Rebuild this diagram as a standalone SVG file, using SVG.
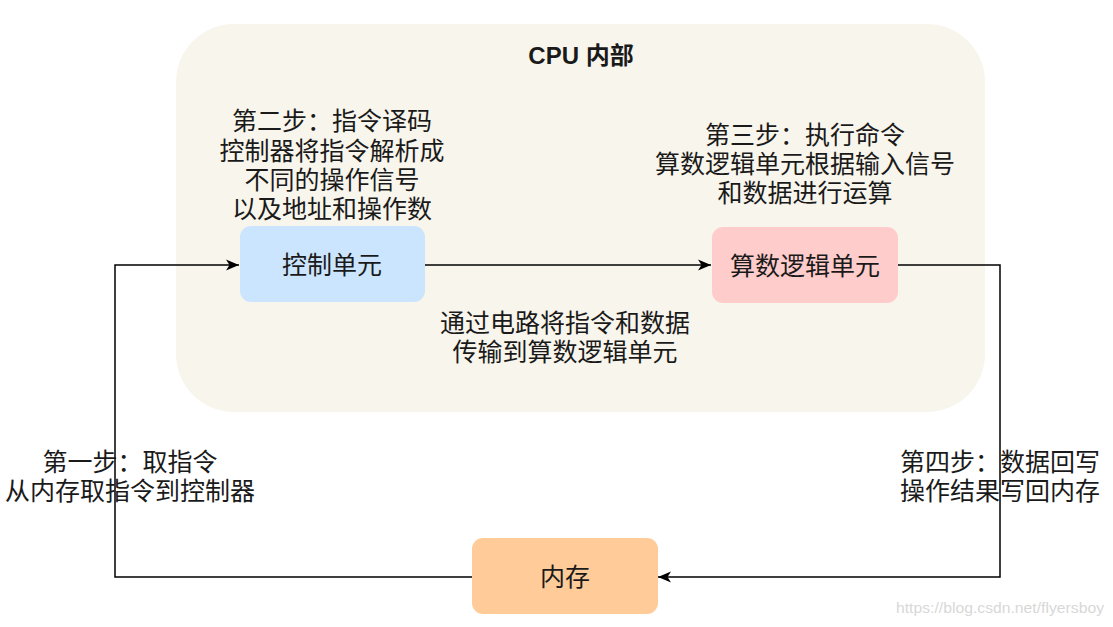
<svg xmlns="http://www.w3.org/2000/svg" width="1113" height="627" viewBox="0 0 1113 627">
  <style>
    .lbl { font-family: "Liberation Sans", "Noto Sans CJK SC", sans-serif; font-size: 25px; fill: #1a1a1a; text-anchor: middle; dominant-baseline: central; }
    .title { font-weight: bold; font-size: 24px; }
    .edge { fill: none; stroke: #000; stroke-width: 1.5; }
    .wm { font-family: "Liberation Sans", sans-serif; font-size: 15px; fill: #d8d8d8; text-anchor: end; }
  </style>
  <defs>
    <marker id="arrow" markerUnits="userSpaceOnUse" markerWidth="14" markerHeight="14" viewBox="0 0 14 14" refX="13" refY="7" orient="auto">
      <path d="M0,1.5 L13,7 L0,12.5 L3.5,7 z" fill="#000"/>
    </marker>
  </defs>
  <rect width="1113" height="627" fill="#ffffff"/>

  <!-- CPU container -->
  <g id="cpu">
    <rect x="176" y="24" width="809" height="388" rx="58" ry="58" fill="#f8f5ec"/>
    <text class="lbl title" x="581" y="55">CPU 内部</text>
  </g>

  <!-- connectors -->
  <g id="connectors">
    <path class="edge" d="M425,265 L711,265" marker-end="url(#arrow)"/>
    <path class="edge" d="M898,265 L1000,265 L1000,577 L658,577" marker-end="url(#arrow)"/>
    <path class="edge" d="M472,577 L115,577 L115,265 L239,265" marker-end="url(#arrow)"/>
  </g>

  <!-- nodes -->
  <g id="control-unit">
    <rect x="240" y="226" width="185" height="76" rx="11" fill="#cce5ff"/>
    <text class="lbl" x="332" y="265">控制单元</text>
  </g>
  <g id="alu">
    <rect x="712" y="227" width="186" height="76" rx="11" fill="#ffcccc"/>
    <text class="lbl" x="805" y="266">算数逻辑单元</text>
  </g>
  <g id="memory">
    <rect x="472" y="538" width="186" height="76" rx="11" fill="#ffcc99"/>
    <text class="lbl" x="565" y="577">内存</text>
  </g>

  <!-- step labels -->
  <g id="step2">
    <text class="lbl" x="332" y="121">第二步：指令译码</text>
    <text class="lbl" x="332" y="151">控制器将指令解析成</text>
    <text class="lbl" x="332" y="180">不同的操作信号</text>
    <text class="lbl" x="332" y="209">以及地址和操作数</text>
  </g>
  <g id="step3">
    <text class="lbl" x="805" y="135">第三步：执行命令</text>
    <text class="lbl" x="805" y="164">算数逻辑单元根据输入信号</text>
    <text class="lbl" x="805" y="193">和数据进行运算</text>
  </g>
  <g id="transfer">
    <text class="lbl" x="565" y="323">通过电路将指令和数据</text>
    <text class="lbl" x="565" y="352">传输到算数逻辑单元</text>
  </g>
  <g id="step1">
    <text class="lbl" x="130" y="462">第一步：取指令</text>
    <text class="lbl" x="130" y="491">从内存取指令到控制器</text>
  </g>
  <g id="step4">
    <text class="lbl" x="1000" y="462">第四步：数据回写</text>
    <text class="lbl" x="1000" y="491">操作结果写回内存</text>
  </g>

  <text class="wm" x="1104" y="613" textLength="208" lengthAdjust="spacingAndGlyphs">https://blog.csdn.net/flyersboy</text>
</svg>
